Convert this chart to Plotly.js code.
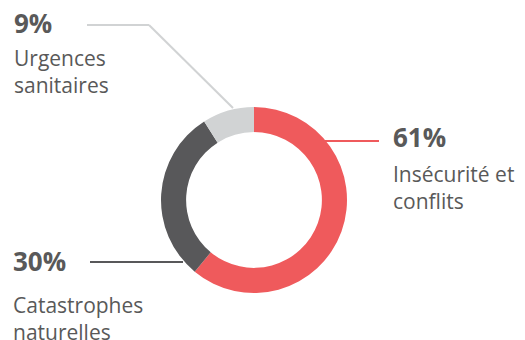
<!DOCTYPE html>
<html>
<head>
<meta charset="utf-8">
<script src="https://cdn.plot.ly/plotly-3.0.1.min.js"></script>
<style>html,body{margin:0;padding:0;background:#fff;}#chart{width:525px;height:340px;}</style>
</head>
<body>
<div id="chart"></div>
<script>
// Data
const categories = ["Insécurité et conflits", "Catastrophes naturelles", "Urgences sanitaires"];
const labelLines = [["Insécurité et", "conflits"], ["Catastrophes", "naturelles"], ["Urgences", "sanitaires"]];
const values = [61, 30, 9];
const sliceColors = ["#EF5A5C", "#58585A", "#D1D3D4"];

// Layout helpers (pixel -> paper)
const W = 525, H = 340;
const px = x => x / W;
const py = y => 1 - y / H;

const cx = 254, cy = 200, R = 93;
const textColor = "#595959";
const FONT = "Open Sans, Noto Sans, sans-serif";

// label placements: left x, percent centre y, label-block centre y (pixels)
const placements = [
  {x: 391, pct: 137, lbl: 187},
  {x: 11, pct: 261, lbl: 318},
  {x: 12, pct: 23, lbl: 71}
];
// leader lines per slice (pixel polylines)
const leaders = [
  [[325, 141], [379, 141]],
  [[90, 262], [183, 262]],
  [[87, 25], [149, 25], [233, 108]]
];

const annotations = [];
const shapes = [];
values.forEach((v, i) => {
  const p = placements[i];
  annotations.push({xref: "paper", yref: "paper", x: px(p.x), y: py(p.pct), xanchor: "left", yanchor: "middle",
    text: "<b>" + v + "%</b>", showarrow: false, font: {family: FONT, size: 26, color: textColor}});
  annotations.push({xref: "paper", yref: "paper", x: px(p.x), y: py(p.lbl), xanchor: "left", yanchor: "middle",
    align: "left", text: labelLines[i].join("<br>"), showarrow: false,
    font: {family: FONT, size: 21, color: textColor}});
  const pts = leaders[i];
  for (let k = 0; k < pts.length - 1; k++) {
    shapes.push({type: "line", xref: "paper", yref: "paper",
      x0: px(pts[k][0]), y0: py(pts[k][1]), x1: px(pts[k + 1][0]), y1: py(pts[k + 1][1]),
      line: {color: sliceColors[i], width: 2}});
  }
});

const data = [{
  type: "pie",
  labels: categories,
  values: values,
  hole: 0.73,
  sort: false,
  direction: "clockwise",
  rotation: 0,
  textinfo: "none",
  hoverinfo: "label+percent",
  marker: {colors: sliceColors, line: {width: 0}},
  domain: {x: [px(cx - R), px(cx + R)], y: [py(cy + R), py(cy - R)]},
  showlegend: false
}];

const layout = {
  width: W, height: H,
  margin: {l: 0, r: 0, t: 0, b: 0},
  paper_bgcolor: "#fff",
  showlegend: false,
  annotations: annotations,
  shapes: shapes
};

Plotly.newPlot("chart", data, layout, {displayModeBar: false, staticPlot: true});
</script>
</body>
</html>
